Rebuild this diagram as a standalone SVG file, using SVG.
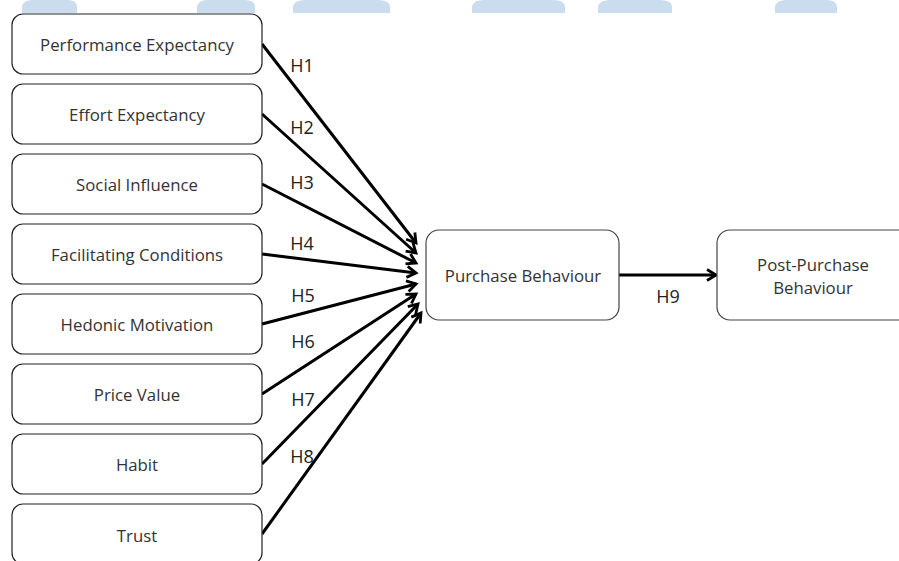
<svg xmlns="http://www.w3.org/2000/svg" width="899" height="561" viewBox="0 0 899 561">
<style>
.box{fill:#fff;stroke:#222;stroke-width:1.2}
.box2{fill:#fff;stroke:#444;stroke-width:1.2}
.t{font-family:"Open Sans","Liberation Sans",sans-serif;font-size:16.8px;fill:#333;text-anchor:middle;dominant-baseline:central}
.h{font-family:"Open Sans","Liberation Sans",sans-serif;font-size:18px;fill:#222;text-anchor:middle;dominant-baseline:central}
.c{stroke:#000;stroke-width:3;fill:none;marker-end:url(#ah)}
.wm{fill:#c9ddee}
</style>
<defs>
<marker id="ah" markerUnits="userSpaceOnUse" viewBox="0 0 14 14" markerWidth="14" markerHeight="14" refX="11" refY="7" orient="auto">
<path d="M2,1.5 L11,7 L2,12.5" fill="none" stroke="#000" stroke-width="2.8" stroke-linejoin="miter"/>
</marker>
</defs>
<rect width="899" height="561" fill="#fff"/>
<g id="watermark">
<path class="wm" d="M22,13 L22,6 Q24,0 32,0 L68,0 Q76,0 77,6 L77,13 Z"/>
<path class="wm" d="M197,13 L197,6 Q199,0 207,0 L245,0 Q254,0 255,6 L255,13 Z"/>
<path class="wm" d="M293,13 L293,6 Q295,0 305,0 L378,0 Q389,0 390,6 L390,13 Z"/>
<path class="wm" d="M472,13 L472,6 Q474,0 484,0 L553,0 Q564,0 565,6 L565,13 Z"/>
<path class="wm" d="M598,13 L598,6 Q600,0 610,0 L660,0 Q671,0 672,6 L672,13 Z"/>
<path class="wm" d="M775,13 L775,6 Q777,0 786,0 L826,0 Q836,0 837,6 L837,13 Z"/>
</g>
<g id="connectors">
<line class="c" x1="262" y1="44" x2="416" y2="243"/>
<line class="c" x1="262" y1="114" x2="416" y2="253"/>
<line class="c" x1="262" y1="184" x2="416" y2="263"/>
<line class="c" x1="262" y1="254" x2="416" y2="273"/>
<line class="c" x1="262" y1="324" x2="416" y2="284"/>
<line class="c" x1="262" y1="394" x2="416" y2="294"/>
<line class="c" x1="262" y1="464" x2="418" y2="304"/>
<line class="c" x1="262" y1="534" x2="421" y2="313"/>
<line class="c" x1="619" y1="275" x2="716" y2="275"/>
<text class="h" x="302" y="65">H1</text>
<text class="h" x="302" y="127">H2</text>
<text class="h" x="302" y="182">H3</text>
<text class="h" x="302" y="243">H4</text>
<text class="h" x="303" y="295">H5</text>
<text class="h" x="303" y="341">H6</text>
<text class="h" x="303" y="399">H7</text>
<text class="h" x="302" y="456">H8</text>
<text class="h" x="668" y="296">H9</text>
</g>
<g id="n1"><rect class="box" x="12" y="14" width="250" height="60" rx="11"/><text class="t" x="137" y="44">Performance Expectancy</text></g>
<g id="n2"><rect class="box" x="12" y="84" width="250" height="60" rx="11"/><text class="t" x="137" y="114">Effort Expectancy</text></g>
<g id="n3"><rect class="box" x="12" y="154" width="250" height="60" rx="11"/><text class="t" x="137" y="184">Social Influence</text></g>
<g id="n4"><rect class="box" x="12" y="224" width="250" height="60" rx="11"/><text class="t" x="137" y="254">Facilitating Conditions</text></g>
<g id="n5"><rect class="box" x="12" y="294" width="250" height="60" rx="11"/><text class="t" x="137" y="324">Hedonic Motivation</text></g>
<g id="n6"><rect class="box" x="12" y="364" width="250" height="60" rx="11"/><text class="t" x="137" y="394">Price Value</text></g>
<g id="n7"><rect class="box" x="12" y="434" width="250" height="60" rx="11"/><text class="t" x="137" y="464">Habit</text></g>
<g id="n8"><rect class="box" x="12" y="504" width="250" height="60" rx="11"/><text class="t" x="137" y="535">Trust</text></g>
<g id="n9"><rect class="box2" x="426" y="230" width="193" height="90" rx="13"/><text class="t" x="523" y="275">Purchase Behaviour</text></g>
<g id="n10"><rect class="box2" x="717" y="230" width="195" height="90" rx="13"/><text class="t" x="813" y="264">Post-Purchase</text><text class="t" x="813" y="287">Behaviour</text></g>
</svg>
